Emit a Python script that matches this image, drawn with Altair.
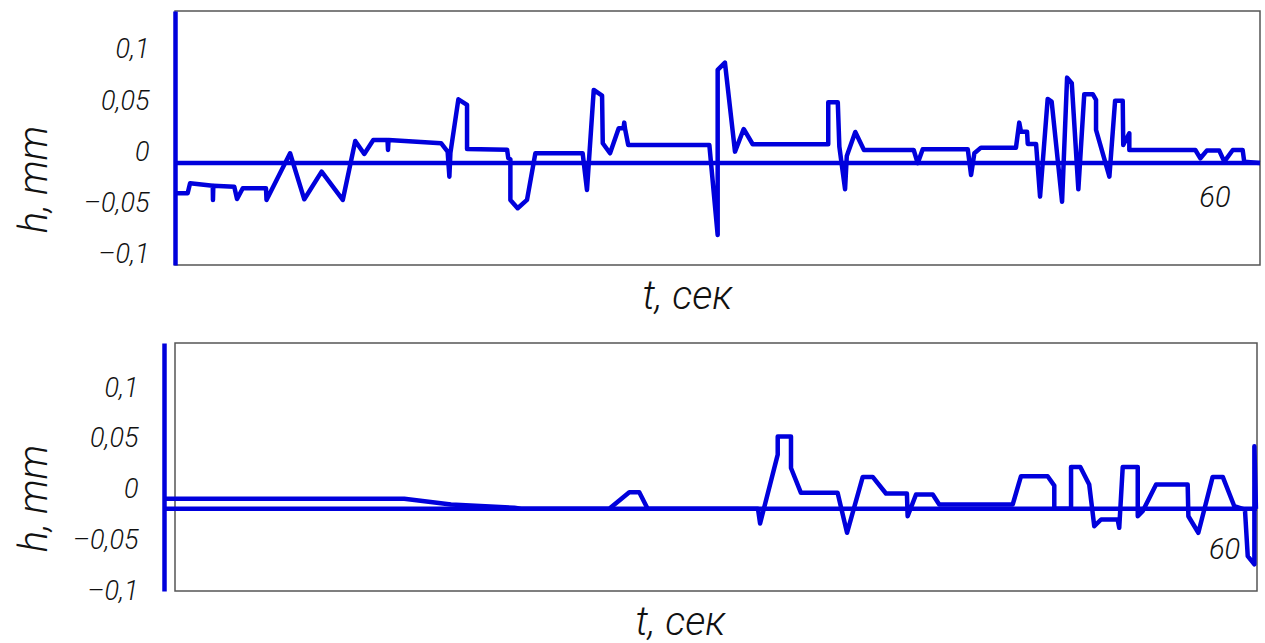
import altair as alt
import pandas as pd

BLUE = "#0000dc"
FONT = "Roboto, Liberation Sans, sans-serif"
T_MAX = 62.6

# ---------- data ----------
t_top = [0, 0.73, 0.87, 2.18, 2.19, 2.21, 3.42, 3.58, 3.91, 5.25, 5.28, 6.64, 7.46, 8.46, 9.68,
         10.40, 10.92, 11.44, 12.26, 12.29, 12.32, 15.35, 15.73, 15.83, 15.89, 16.35, 16.85, 16.85,
         19.16, 19.23, 19.35, 19.35, 19.77, 20.31, 20.79, 23.52, 23.77, 24.16, 24.64, 24.68, 25.10,
         25.60, 25.88, 25.92, 25.96, 26.15, 30.83, 31.31, 31.31, 31.73, 32.31, 32.81, 33.33, 37.69,
         37.69, 38.24, 38.33, 38.66, 38.76, 39.25, 39.75, 42.62, 42.85, 43.14, 45.74, 45.93, 46.12,
         46.50, 48.52, 48.71, 48.81, 49.16, 49.20, 49.68, 49.91, 50.35, 50.58, 51.18, 51.47, 51.74,
         52.12, 52.46, 52.95, 53.14, 53.14, 53.91, 54.24, 54.68, 54.71, 55.06, 55.06, 58.87, 59.16,
         59.53, 60.25, 60.54, 61.03, 61.60, 61.69, 62.6]
h_top = [-0.0398, -0.0398, -0.0300, -0.0324, -0.0463, -0.0324, -0.0334, -0.0454, -0.0349, -0.0349,
         -0.0463, -0.0008, -0.0457, -0.0187, -0.0463, 0.0112, -0.0015, 0.0122, 0.0122, 0.0024,
         0.0122, 0.0090, 0.0008, -0.0236, -0.0005, 0.0519, 0.0463, 0.0034, 0.0027, -0.0057,
         -0.0066, -0.0463, -0.0544, -0.0463, -0.0008, -0.0008, -0.0366, 0.0610, 0.0554, 0.0090,
         -0.0008, 0.0236, 0.0236, 0.0291, 0.0236, 0.0073, 0.0073, -0.0805, 0.0805, 0.0876,
         0.0008, 0.0229, 0.0080, 0.0080, 0.0490, 0.0490, 0.0057, -0.0359, -0.0034, 0.0200,
         0.0024, 0.0024, -0.0105, 0.0031, 0.0031, -0.0220, -0.0008, 0.0047, 0.0047, 0.0291,
         0.0203, 0.0203, 0.0083, 0.0083, -0.0431, 0.0522, 0.0496, -0.0480, 0.0730, 0.0675,
         -0.0359, 0.0568, 0.0568, 0.0512, 0.0220, -0.0236, 0.0505, 0.0505, 0.0073, 0.0187,
         0.0024, 0.0024, -0.0057, 0.0018, 0.0018, -0.0090, 0.0024, 0.0024, -0.0090, -0.0102]

t_bot = [0, 13.76, 16.44, 20.06, 20.45, 25.50, 26.65, 27.22, 27.70, 34.02, 34.14, 35.15, 35.15,
         35.91, 35.91, 36.48, 38.58, 39.12, 40.02, 40.59, 41.35, 42.55, 42.59, 43.07, 44.03, 44.40,
         48.61, 49.08, 50.61, 50.99, 50.99, 51.95, 51.95, 52.48, 52.99, 53.28, 53.67, 54.62, 54.71,
         54.91, 55.77, 55.77, 56.05, 56.82, 58.63, 58.67, 59.24, 60.06, 60.64, 61.30, 61.91, 62.07,
         62.45, 62.45, 62.54]
h_bot = [-0.0091, -0.0091, -0.0147, -0.0180, -0.0190, -0.0190, -0.0027, -0.0027, -0.0190, -0.0190,
         -0.0334, 0.0344, 0.0524, 0.0524, 0.0213, -0.0032, -0.0032, -0.0426, 0.0125, 0.0125,
         -0.0039, -0.0039, -0.0263, -0.0049, -0.0049, -0.0147, -0.0147, 0.0131, 0.0131, 0.0039,
         -0.0190, -0.0190, 0.0223, 0.0223, 0.0049, -0.0361, -0.0295, -0.0295, -0.0377, 0.0223,
         0.0223, -0.0263, -0.0214, 0.0049, 0.0049, -0.0263, -0.0426, 0.0125, 0.0125, -0.0164,
         -0.0197, -0.0656, -0.0737, 0.0426, -0.0190]

baseline_top = [-0.0102]
baseline_bot = [-0.0190]

y_tick_values = [-0.1, -0.05, 0, 0.05, 0.1]
y_tick_labels = ["–0,1", "–0,05", "0", "0,05", "0,1"]
x_mark_value = [60]
x_mark_label = ["60"]

label_expr = " : ".join(f"datum.value == {v} ? '{l}'" for v, l in zip(y_tick_values, y_tick_labels)) + " : ''"


def panel(t, h, base, xdom, ydom, w, ht, axis_offset, ytitle_x, ytitle_y, xtitle_x, lab60_y, lab60_dx):
    df = pd.DataFrame({"t": t, "h": h, "i": list(range(len(t)))})
    xs = alt.Scale(domain=xdom, nice=False, zero=False)
    ys = alt.Scale(domain=ydom, nice=False, zero=False)
    line = alt.Chart(df).mark_line(color=BLUE, strokeWidth=4.5, strokeJoin="round",
                                   clip=False).encode(
        x=alt.X("t:Q", scale=xs, axis=alt.Axis(
            title="t, сек", labels=False, ticks=False, domain=False, grid=False,
            titleFont=FONT, titleFontSize=40, titleFontStyle="italic", titleFontWeight=300,
            titleColor="#111", titlePadding=11, titleX=xtitle_x, titleAlign="center")),
        y=alt.Y("h:Q", scale=ys, axis=alt.Axis(
            values=y_tick_values, labelExpr=label_expr, ticks=False, grid=False,
            domain=True, domainColor=BLUE, domainWidth=4.5, offset=axis_offset,
            labelFont=FONT, labelFontSize=27, labelFontStyle="italic", labelFontWeight=300,
            labelColor="#111", labelPadding=26,
            title="h, mm", titleFont=FONT, titleFontSize=40, titleFontStyle="italic",
            titleFontWeight=300, titleColor="#111", titleAngle=270,
            titleX=ytitle_x, titleY=ytitle_y, titleBaseline="alphabetic", titleAlign="center")),
        order="i:Q",
    )
    rule = alt.Chart(pd.DataFrame({"h": base, "t0": [0], "t1": [T_MAX]})).mark_rule(
        color=BLUE, strokeWidth=4.5, clip=False).encode(
        y=alt.Y("h:Q", scale=ys), x=alt.X("t0:Q", scale=xs), x2="t1:Q")
    txt = alt.Chart(pd.DataFrame({"t": x_mark_value, "lab": x_mark_label})).mark_text(
        font=FONT, fontSize=29, fontStyle="italic", fontWeight=300, color="#111",
        dx=lab60_dx).encode(
        x=alt.X("t:Q", scale=xs), y=alt.value(lab60_y), text="lab:N")
    return alt.layer(line, rule, txt).properties(width=w, height=ht)


top = panel(t_top, h_top, baseline_top, [0, T_MAX], [-0.1098, 0.138], 1085, 254, 0,
            -129, 168, 512, 187, 0)
bottom = panel(t_bot, h_bot, baseline_bot, [0.63, T_MAX], [-0.1, 0.1445], 1082, 248, 11,
               -118, 155, 505, 207, 13)

chart = alt.vconcat(top, bottom, spacing=25).properties(
    padding={"left": 13, "top": 10, "right": 0, "bottom": 0},
    background="white",
).configure_view(stroke="#555", strokeWidth=1.5)

chart.save("out.html", embed_options={"renderer": "svg", "actions": False})
